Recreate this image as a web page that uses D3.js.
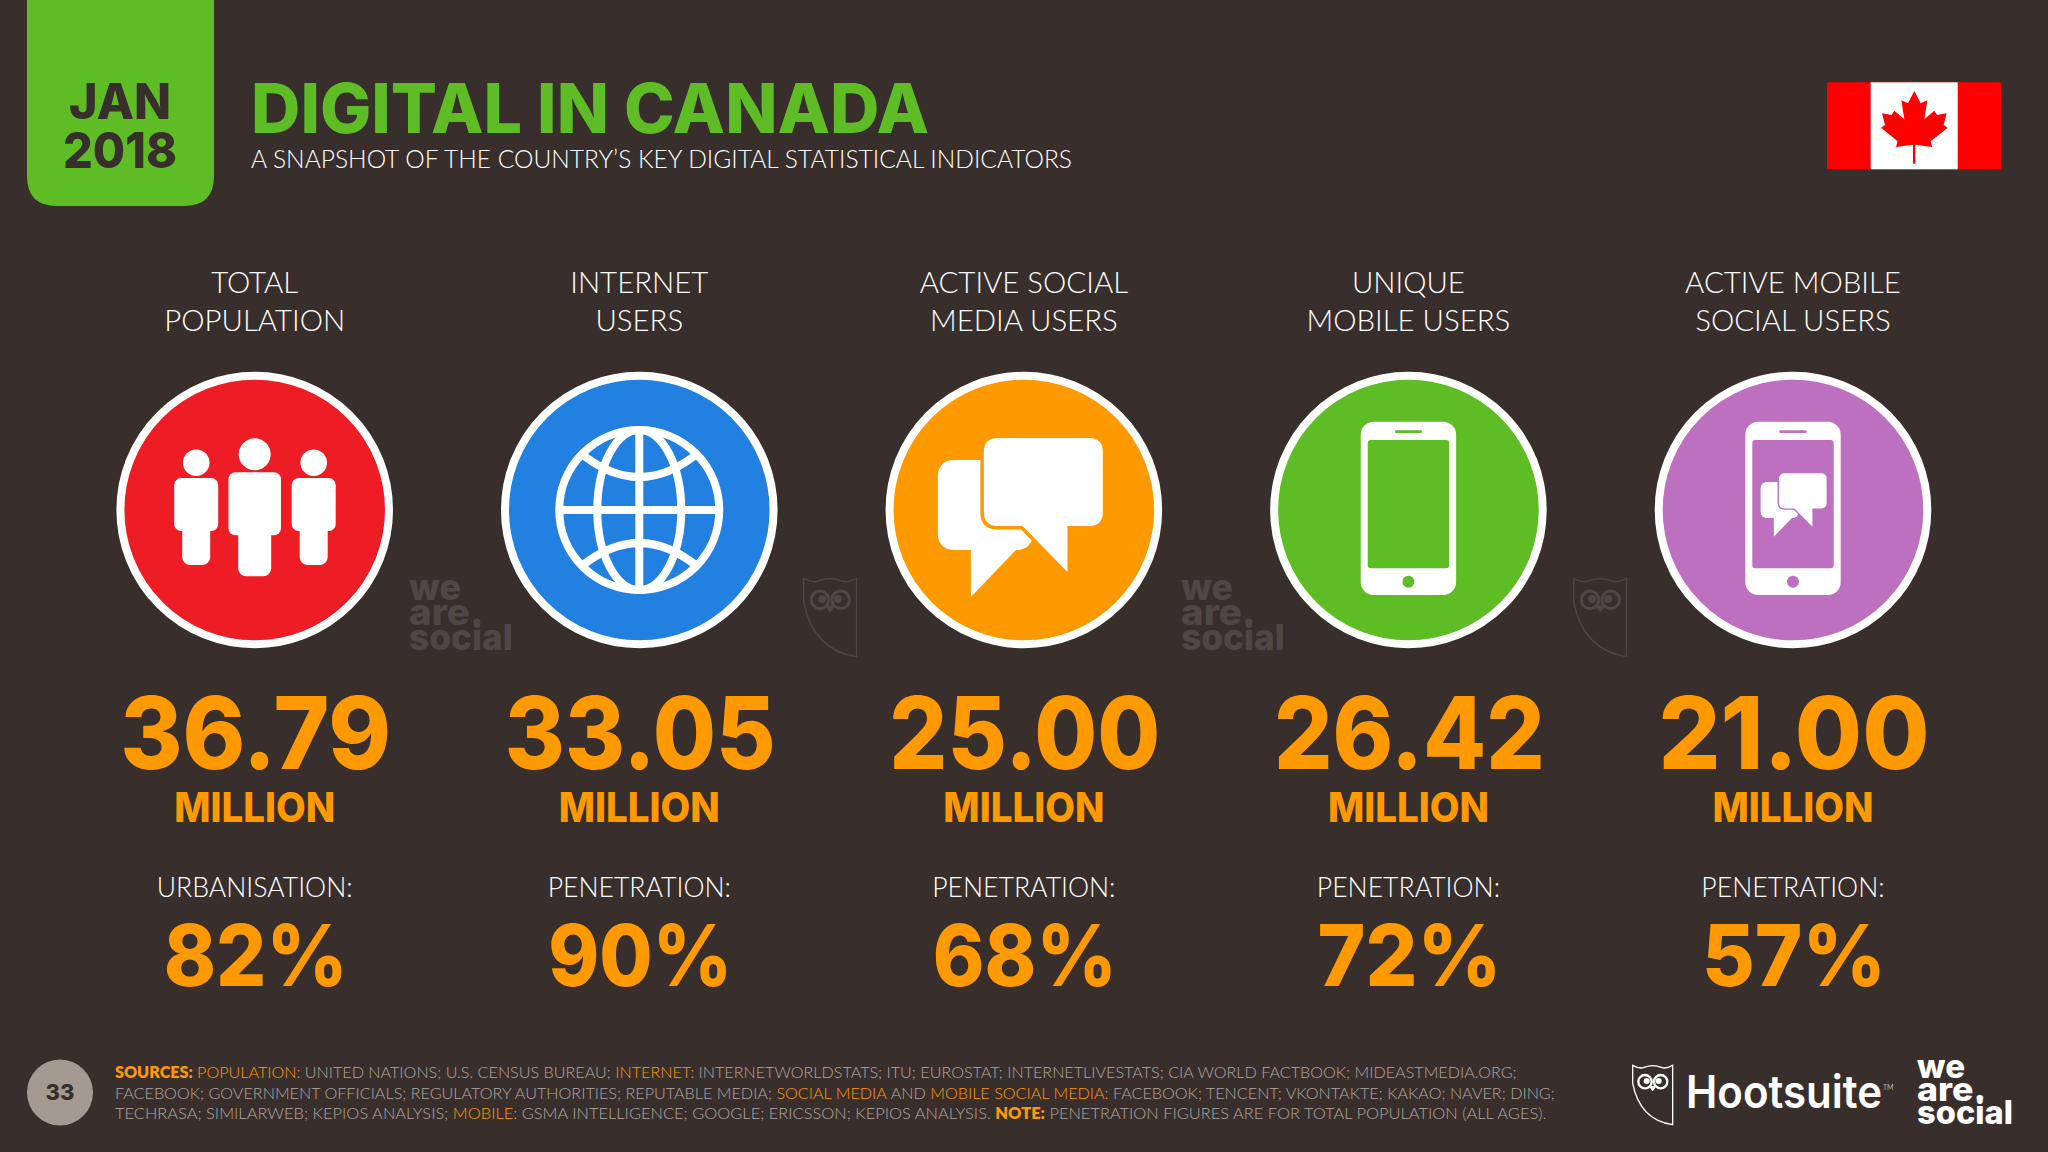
<!DOCTYPE html>
<html>
<head>
<meta charset="utf-8">
<script src="https://cdn.jsdelivr.net/npm/d3@7"></script>
<style>
  html, body { margin: 0; padding: 0; background: #382f2d; }
  svg { display: block; }
  text { font-family: Lato, sans-serif; font-weight: 300; }
  text.heavy, text.heavy tspan { font-family: Inter, sans-serif; font-weight: 800; }
</style>
</head>
<body>
<div id="chart"></div>
<script>
const categories = ['population', 'internet', 'social', 'mobile', 'mobileSocial'];
const headingTop = ['TOTAL', 'INTERNET', 'ACTIVE SOCIAL', 'UNIQUE', 'ACTIVE MOBILE'];
const headingBottom = ['POPULATION', 'USERS', 'MEDIA USERS', 'MOBILE USERS', 'SOCIAL USERS'];
const millions = [36.79, 33.05, 25.00, 26.42, 21.00];
const shareLabels = ['URBANISATION:', 'PENETRATION:', 'PENETRATION:', 'PENETRATION:', 'PENETRATION:'];
const shares = [82, 90, 68, 72, 57];
const colors = ['#ee1c25', '#2280e0', '#ff9900', '#5ebd25', '#bd6fc0'];

const sourceLines = [
  [['SOURCES:', 'b'], [' POPULATION:', 'o'], [' UNITED NATIONS; U.S. CENSUS BUREAU; ', ''], ['INTERNET:', 'o'],
    [' INTERNETWORLDSTATS; ITU; EUROSTAT; INTERNETLIVESTATS; CIA WORLD FACTBOOK; MIDEASTMEDIA.ORG;', '']],
  [['FACEBOOK; GOVERNMENT OFFICIALS; REGULATORY AUTHORITIES; REPUTABLE MEDIA; ', ''], ['SOCIAL MEDIA', 'o'], [' AND ', ''],
    ['MOBILE SOCIAL MEDIA:', 'o'], [' FACEBOOK; TENCENT; VKONTAKTE; KAKAO; NAVER; DING;', '']],
  [['TECHRASA; SIMILARWEB; KEPIOS ANALYSIS; ', ''], ['MOBILE:', 'o'], [' GSMA INTELLIGENCE; GOOGLE; ERICSSON; KEPIOS ANALYSIS. ', ''],
    ['NOTE:', 'b'], [' PENETRATION FIGURES ARE FOR TOTAL POPULATION (ALL AGES).', '']]
];

const W = 2048, H = 1152;
const bg = '#382f2d', green = '#5ebd25', orange = '#ff9900', faint = '#4f4745';

const svg = d3.select('#chart').append('svg').attr('width', W).attr('height', H);
svg.append('rect').attr('width', W).attr('height', H).attr('fill', bg);

const x = d3.scalePoint().domain(categories).range([254.7, 1793]);

// Stretch or squeeze a text to an exact pixel width
function fit (sel, width) {
  return sel.attr('textLength', width).attr('lengthAdjust', 'spacingAndGlyphs');
}

// Same thing but by a ratio, so a whole style keeps one proportion
function squeeze (sel, ratio) {
  sel.each(function () {
    d3.select(this).attr('textLength', this.getComputedTextLength() * ratio).attr('lengthAdjust', 'spacingAndGlyphs');
  });
  return sel;
}

function label (parent, px, py, str, size, fill, cls) {
  return parent.append('text').attr('x', px).attr('y', py).attr('font-size', size)
    .attr('fill', fill).attr('class', cls || null).text(str);
}

// ---- header
const tab = d3.path();
tab.moveTo(27, 0);
tab.lineTo(27, 176);
tab.quadraticCurveTo(27, 206, 57, 206);
tab.lineTo(184, 206);
tab.quadraticCurveTo(214, 206, 214, 176);
tab.lineTo(214, 0);
tab.closePath();
svg.append('path').attr('d', tab.toString()).attr('fill', green);

fit(label(svg, 69, 119, 'JAN', 50, bg, 'heavy'), 102);
fit(label(svg, 63, 168, '2018', 50, bg, 'heavy'), 114);
fit(label(svg, 251, 133, 'DIGITAL IN CANADA', 69, green, 'heavy'), 678);
fit(label(svg, 251, 168, 'A SNAPSHOT OF THE COUNTRY\u2019S KEY DIGITAL STATISTICAL INDICATORS', 25, '#fff'), 821);

// ---- flag
const leaf = [[313, 63], [332, 100], [352, 91], [343, 148], [373, 122], [381, 135], [410, 130], [401, 165], [413, 173],
  [362, 214], [367, 231], [316, 224], [316, 281], [309, 281], [309, 224], [258, 231], [263, 214], [213, 173],
  [225, 165], [216, 130], [245, 135], [253, 122], [283, 148], [274, 91], [294, 100]];
svg.append('rect').attr('x', 1827).attr('y', 82.3).attr('width', 174.3).attr('height', 87).attr('rx', 1.5).attr('fill', '#fe0000');
svg.append('rect').attr('x', 1870.7).attr('y', 82.3).attr('width', 87).attr('height', 87).attr('fill', '#fff');
svg.append('path').attr('transform', 'translate(1810,70) scale(0.3333)')
  .attr('d', d3.line()(leaf) + 'Z').attr('fill', '#fe0000');

// ---- columns
const cols = svg.selectAll('g.col').data(categories).enter().append('g')
  .attr('class', 'col')
  .attr('transform', d => 'translate(' + x(d) + ',0)')
  .attr('text-anchor', 'middle');

squeeze(cols.append('text').attr('y', 293).attr('font-size', 30).attr('fill', '#fff').text((d, i) => headingTop[i]), 0.98);
squeeze(cols.append('text').attr('y', 331).attr('font-size', 30).attr('fill', '#fff').text((d, i) => headingBottom[i]), 0.98);

cols.append('circle').attr('cy', 510).attr('r', 134.3).attr('fill', (d, i) => colors[i])
  .attr('stroke', '#fff').attr('stroke-width', 8);

fit(cols.append('text').attr('class', 'heavy').attr('y', 769).attr('font-size', 100).attr('fill', orange)
  .attr('dx', 1).text((d, i) => d3.format('.2f')(millions[i])), 271);
fit(cols.append('text').attr('class', 'heavy').attr('y', 822).attr('font-size', 41).attr('fill', orange)
  .text('MILLION'), 161);
squeeze(cols.append('text').attr('y', 897).attr('font-size', 28).attr('fill', '#fff').text((d, i) => shareLabels[i]), 0.95);
fit(cols.append('text').attr('class', 'heavy').attr('y', 986).attr('font-size', 85).attr('fill', orange)
  .attr('dx', 1).text((d, i) => shares[i] + '%'), 184);

// ---- icons, drawn around each circle centre
function rr (g, rx0, ry0, w, h, r, fill) {
  return g.append('rect').attr('x', rx0).attr('y', ry0).attr('width', w).attr('height', h).attr('rx', r).attr('fill', fill);
}

function person (g, cx, top, headR, bodyW, bodyH, legW, totalH) {
  g.append('circle').attr('cx', cx).attr('cy', top + headR).attr('r', headR).attr('fill', '#fff');
  const by = top + 2 * headR + 2;
  rr(g, cx - bodyW / 2, by, bodyW, bodyH, 7, '#fff');
  rr(g, cx - legW / 2, by + bodyH - 10, legW, totalH - bodyH + 10, 8, '#fff');
}

function chatIcon (g, gap) {
  rr(g, -86, -50, 95, 90, 15, '#fff');
  g.append('path').attr('d', 'M-53,38L-53,87L-6,38Z').attr('fill', '#fff');
  const big = 'M-26,-72L65,-72Q79,-72 79,-58L79,2Q79,16 65,16L43.6,16L43.6,62L-1.3,16L-26,16Q-40,16 -40,2L-40,-58Q-40,-72 -26,-72Z';
  g.append('path').attr('d', big).attr('fill', '#fff').attr('stroke', gap).attr('stroke-width', 7)
    .attr('paint-order', 'stroke');
}

function phoneIcon (g, color) {
  rr(g, -47.7, -88.3, 95.4, 173.3, 13, '#fff');
  rr(g, -40.7, -70, 81.4, 128.3, 3, color);
  rr(g, -13.5, -79.7, 27, 2.6, 1, color);
  g.append('circle').attr('cy', 71.7).attr('r', 6).attr('fill', color);
}

function drawIcon (d, i) {
  const g = d3.select(this).append('g').attr('transform', 'translate(0,510)');
  if (d === 'population') {
    person(g, -58.5, -60.6, 13.3, 44, 53, 28, 87);
    person(g, 0, -71.7, 16, 52.5, 63, 33, 104);
    person(g, 59, -60.6, 13.3, 44, 53, 28, 87);
  } else if (d === 'internet') {
    const id = 'globe-clip';
    g.append('clipPath').attr('id', id).append('circle').attr('r', 80);
    const globe = g.append('g').attr('fill', 'none').attr('stroke', '#fff').attr('stroke-width', 8);
    globe.append('circle').attr('r', 80);
    globe.append('ellipse').attr('rx', 42).attr('ry', 80);
    const inner = globe.append('g').attr('clip-path', 'url(#' + id + ')');
    inner.append('path').attr('d', 'M0,-80L0,80M-80,0L80,0');
    inner.append('path').attr('d', 'M-60,-58Q0,-8 60,-58M-60,58Q0,8 60,58');
  } else if (d === 'social') {
    chatIcon(g, colors[i]);
  } else if (d === 'mobile') {
    phoneIcon(g, colors[i]);
  } else {
    phoneIcon(g, colors[i]);
    chatIcon(g.append('g').attr('transform', 'translate(2,-8) scale(0.4)'), colors[i]);
  }
}
cols.each(drawIcon);

// ---- logos
function owl (parent, tx, ty, k, color, strokeW) {
  const g = parent.append('g').attr('transform', 'translate(' + tx + ',' + ty + ') scale(' + k + ')');
  g.append('path')
    .attr('d', 'M38,46Q60,58 72,52Q98,42 124,52Q136,58 158,46L158,224Q60,210 38,100Z')
    .attr('fill', 'none').attr('stroke', color).attr('stroke-width', strokeW);
  g.selectAll('circle.eye').data([75, 122]).enter().append('circle')
    .attr('class', 'eye').attr('cx', d => d).attr('cy', 95).attr('r', 20)
    .attr('fill', 'none').attr('stroke', color).attr('stroke-width', 7);
  g.selectAll('circle.pupil').data([80, 116]).enter().append('circle')
    .attr('class', 'pupil').attr('cx', d => d).attr('cy', 93).attr('r', 9).attr('fill', color);
  g.append('path').attr('d', 'M85,108L110,108L98,124Z').attr('fill', color);
}

// One text element with a line per word, the logo is set very tight
function weAreSocial (parent, tx, top, scale, fill) {
  const words = ['we', 'are.', 'social'];
  const t = parent.append('text').attr('class', 'heavy').attr('font-size', 33 * scale)
    .attr('fill', fill).attr('y', top);
  t.selectAll('tspan').data(words).enter().append('tspan')
    .attr('x', tx)
    .attr('dy', (d, i) => i ? 23 * scale : 0)
    .attr('textLength', (d, i) => [48, 69, 96][i] * scale)
    .attr('lengthAdjust', 'spacingAndGlyphs')
    .text(d => d);
}

weAreSocial(svg, 409, 600, 1.08, faint);
weAreSocial(svg, 1181, 600, 1.08, faint);
owl(svg, 787, 558, 0.44, faint, 3);
owl(svg, 1557, 558, 0.44, faint, 3);

owl(svg, 1620, 1050, 0.3333, '#fff', 4);
fit(label(svg, 1686, 1108, 'Hootsuite', 45, '#fff', 'heavy').style('font-weight', 600), 196);
label(svg, 1883, 1090, 'TM', 7, '#fff');
weAreSocial(svg, 1917, 1078, 1, '#fff');

// ---- footer
svg.append('circle').attr('cx', 60).attr('cy', 1092.5).attr('r', 33).attr('fill', '#a59a92');
label(svg, 60, 1099.5, '33', 22, bg, 'heavy').attr('text-anchor', 'middle');

const lineY = d3.scalePoint().domain([0, 1, 2]).range([1078, 1119]);
const lineWidths = [1402, 1441, 1432];
const sources = svg.selectAll('text.src').data(sourceLines).enter().append('text')
  .attr('class', 'src').attr('font-size', 16).attr('fill', '#b0a69e');
sources.selectAll('tspan').data(d => d).enter().append('tspan')
  .attr('fill', d => d[1] ? orange : null)
  .style('font-weight', d => d[1] === 'b' ? 800 : null)
  .style('white-space', 'pre')
  .text(d => d[0]);
sources.each(function (d, i) {
  const k = lineWidths[i] / this.getComputedTextLength();
  d3.select(this).attr('transform', 'translate(115,' + lineY(i) + ') scale(' + k + ',1)');
});
</script>
</body>
</html>
